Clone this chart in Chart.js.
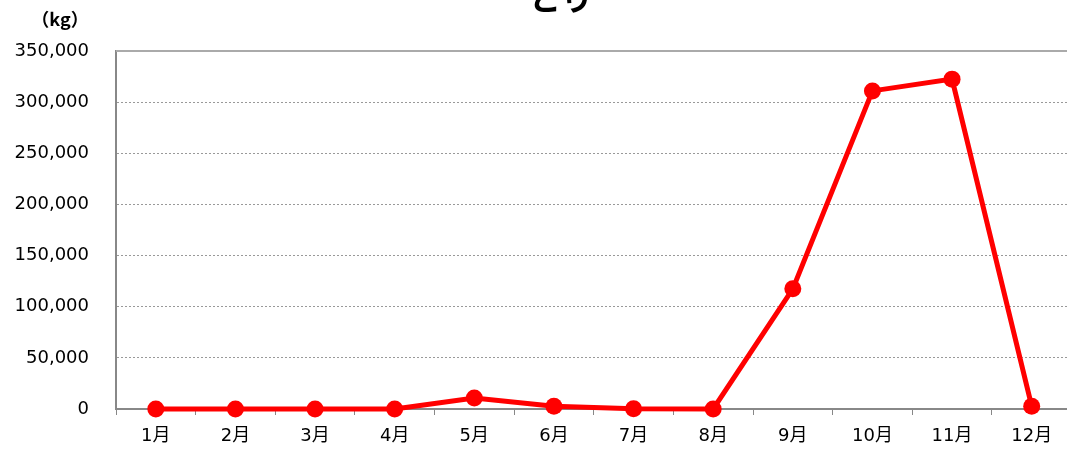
<!DOCTYPE html>
<html>
<head>
<meta charset="utf-8">
<script src="https://cdn.jsdelivr.net/npm/chart.js@4"></script>
<style>
  html, body { margin: 0; padding: 0; background: #fff; overflow: hidden; width: 1067px; height: 452px; }
  #box { position: absolute; left: 0; top: 0; width: 1067px; height: 452px; overflow: hidden; }
</style>
</head>
<body>
<div id="box"><canvas id="chart" width="1080" height="452"></canvas></div>
<script>
const titleText = "とり";
const unitLabel = "（kg）";
const months = ["1月", "2月", "3月", "4月", "5月", "6月", "7月", "8月", "9月", "10月", "11月", "12月"];
const amounts = [0, 0, 0, 0, 10800, 2800, 300, 0, 117500, 311000, 322500, 2800];
const yMax = 350000;
const yStep = 50000;

const FONT = '"DejaVu Sans", "Noto Sans CJK JP", sans-serif';

// title (cut off at the top), the unit label and the solid top frame line
const headerPlugin = {
  id: "header",
  afterDatasetsDraw(chart) {
    const { ctx, chartArea } = chart;
    ctx.save();
    ctx.strokeStyle = "#aaa";
    ctx.lineWidth = 2;
    ctx.beginPath();
    ctx.moveTo(chartArea.left, chartArea.top);
    ctx.lineTo(chartArea.right, chartArea.top);
    ctx.stroke();
    ctx.restore();
  },
  afterDraw(chart) {
    const { ctx } = chart;
    ctx.save();
    ctx.fillStyle = "#000";
    ctx.textAlign = "center";
    ctx.textBaseline = "alphabetic";
    ctx.font = 'bold 32px "Noto Sans CJK JP", sans-serif';
    ctx.fillText(titleText, 561, 10);
    ctx.font = '600 18px "Noto Sans CJK JP", sans-serif';
    ctx.textBaseline = "middle";
    ctx.fillText(unitLabel, 60, 19);
    ctx.restore();
  },
};

new Chart(document.getElementById("chart"), {
  type: "line",
  plugins: [headerPlugin],
  data: {
    labels: months,
    datasets: [
      {
        data: amounts,
        borderColor: "#ff0000",
        backgroundColor: "#ff0000",
        borderWidth: 5,
        pointRadius: 8.5,
        pointHoverRadius: 8.5,
        pointBorderWidth: 0,
        tension: 0,
        fill: false,
        clip: false,
      },
    ],
  },
  options: {
    responsive: false,
    animation: false,
    layout: { padding: { left: 0, top: 51, right: 1, bottom: 0 } },
    scales: {
      x: {
        offset: true,
        grid: {
          offset: true,
          drawOnChartArea: false,
          drawTicks: true,
          tickLength: 6,
          color: "#888",
          lineWidth: 1,
        },
        border: { color: "#888", width: 2 },
        ticks: { color: "#000", font: { family: FONT, size: 18 }, padding: 11, maxRotation: 0 },
        afterFit: (s) => { s.height = 43; },
      },
      y: {
        min: 0,
        max: yMax,
        ticks: {
          stepSize: yStep,
          color: "#000",
          font: { family: FONT, size: 18 },
          padding: 27,
          callback: (v) => v.toLocaleString("en-US"),
        },
        grid: { color: "#999", lineWidth: 1, drawTicks: false },
        border: { color: "#888", width: 2, dash: [2, 2] },
        afterFit: (s) => { s.width = 116; },
      },
    },
    plugins: {
      legend: { display: false },
      tooltip: { enabled: false },
      title: { display: false },
    },
  },
});
</script>
</body>
</html>
